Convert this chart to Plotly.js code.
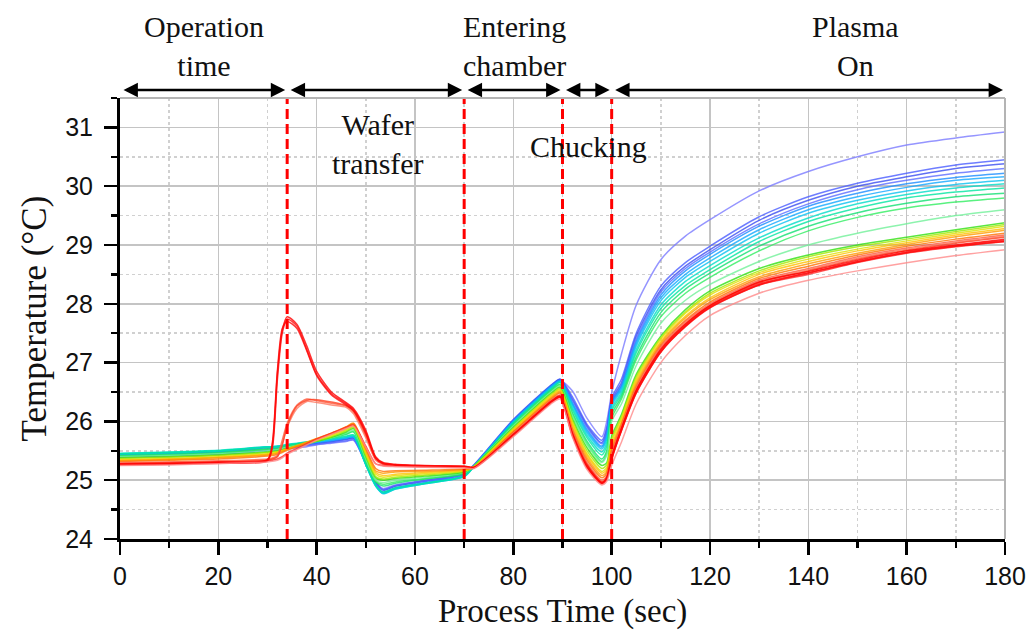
<!DOCTYPE html>
<html>
<head>
<meta charset="utf-8">
<script src="https://cdn.plot.ly/plotly-3.0.1.min.js"></script>
<style>
  html, body { margin: 0; padding: 0; background: #ffffff; }
  #chart { width: 1035px; height: 631px; }
</style>
</head>
<body>
<div id="chart"></div>
<script>
// Process time (sec)
const timeSec = [0, 10, 20, 30, 31, 32, 33, 34, 36, 38, 40, 43, 46, 47.5, 50, 52, 53.5, 56, 62, 70,
                 72, 80, 88, 89.5, 92, 95, 98, 99, 100, 102, 105, 110, 115, 120, 130, 140, 150, 160, 170, 180];

// Temperature traces (°C), one per wafer
const tViolet = [25.38,25.40,25.43,25.50, 25.50,25.51,25.52,25.53, 25.55,25.57,25.60,25.63,25.66,25.68, 25.30,24.98,24.86,24.92,25.00,25.12, 25.26,26.00,26.62,26.70, 26.52,26.05,25.74,26.00,26.48, 27.15,27.98,28.75,29.15,29.43,29.92,30.25,30.50,30.70,30.82,30.92];
const tBlue1 = [25.40,25.42,25.46,25.52, 25.52,25.53,25.54,25.56, 25.58,25.60,25.62,25.65,25.69,25.71, 25.28,24.95,24.83,24.90,24.98,25.10, 25.25,26.02,26.63,26.72, 26.42,25.95,25.68,25.90,26.40, 26.72,27.50,28.30,28.70,28.98,29.48,29.82,30.05,30.22,30.36,30.45];
const tBlue2 = [25.42,25.43,25.47,25.53, 25.53,25.54,25.55,25.56, 25.59,25.61,25.63,25.66,25.70,25.72, 25.30,24.96,24.84,24.90,24.99,25.11, 25.26,26.03,26.64,26.71, 26.38,25.92,25.64,25.85,26.36, 26.66,27.45,28.24,28.64,28.92,29.42,29.76,30.00,30.16,30.30,30.38];
const tBlue3 = [25.39,25.41,25.44,25.51, 25.51,25.52,25.53,25.55, 25.57,25.59,25.61,25.64,25.67,25.69, 25.27,24.94,24.84,24.91,24.99,25.10, 25.25,26.01,26.61,26.69, 26.36,25.90,25.62,25.82,26.34, 26.62,27.40,28.20,28.60,28.88,29.36,29.70,29.94,30.10,30.22,30.30];
const tSky1 = [25.43,25.45,25.48,25.55, 25.55,25.56,25.57,25.58, 25.60,25.62,25.64,25.67,25.71,25.73, 25.28,24.92,24.80,24.87,24.96,25.08, 25.24,26.01,26.62,26.70, 26.32,25.86,25.58,25.78,26.32, 26.60,27.36,28.15,28.56,28.84,29.32,29.66,29.88,30.04,30.15,30.22];
const tSky2 = [25.44,25.46,25.49,25.56, 25.56,25.57,25.58,25.59, 25.61,25.63,25.65,25.68,25.72,25.74, 25.27,24.91,24.78,24.86,24.95,25.07, 25.24,26.00,26.61,26.69, 26.30,25.83,25.56,25.74,26.30, 26.57,27.32,28.10,28.50,28.78,29.26,29.60,29.82,29.98,30.10,30.16];
const tSky3 = [25.45,25.47,25.50,25.57, 25.57,25.58,25.59,25.60, 25.62,25.64,25.66,25.69,25.72,25.74, 25.26,24.90,24.77,24.85,24.94,25.06, 25.23,25.99,26.60,26.68, 26.28,25.80,25.53,25.70,26.27, 26.54,27.28,28.05,28.45,28.72,29.20,29.54,29.76,29.92,30.03,30.10];
const tCyan1 = [25.46,25.48,25.51,25.57, 25.57,25.58,25.59,25.61, 25.63,25.65,25.67,25.70,25.74,25.76, 25.26,24.90,24.78,24.85,24.94,25.06, 25.23,25.98,26.58,26.67, 26.24,25.76,25.48,25.64,26.22, 26.50,27.22,27.98,28.38,28.65,29.12,29.46,29.70,29.86,29.97,30.04];
const tCyan2 = [25.45,25.47,25.50,25.56, 25.56,25.57,25.58,25.60, 25.62,25.65,25.67,25.71,25.75,25.77, 25.28,24.92,24.80,24.87,24.95,25.07, 25.23,25.97,26.57,26.66, 26.20,25.72,25.43,25.58,26.18, 26.46,27.17,27.92,28.31,28.58,29.06,29.40,29.63,29.80,29.90,29.97];
const tGreen1 = [25.42,25.44,25.47,25.53, 25.53,25.54,25.56,25.58, 25.61,25.64,25.67,25.72,25.78,25.82, 25.32,24.97,24.90,24.95,25.02,25.11, 25.24,25.95,26.55,26.63, 26.15,25.66,25.36,25.50,26.12, 26.42,27.10,27.85,28.25,28.52,28.98,29.32,29.55,29.71,29.82,29.88];
const tGreen2 = [25.41,25.43,25.46,25.52, 25.52,25.53,25.55,25.57, 25.60,25.63,25.66,25.72,25.79,25.83, 25.33,24.98,24.93,24.97,25.03,25.12, 25.24,25.94,26.54,26.62, 26.12,25.62,25.32,25.46,26.06, 26.38,27.05,27.78,28.18,28.45,28.90,29.24,29.47,29.63,29.73,29.80];
const tLightGreen = [25.40,25.42,25.45,25.50, 25.51,25.52,25.54,25.56, 25.59,25.62,25.66,25.72,25.80,25.85, 25.36,25.00,24.96,25.00,25.05,25.13, 25.24,25.92,26.52,26.60, 26.10,25.60,25.30,25.42,26.00, 26.30,26.95,27.67,28.06,28.33,28.72,29.00,29.20,29.36,29.50,29.60];
const tLime1 = [25.38,25.40,25.43,25.48, 25.49,25.50,25.52,25.54, 25.58,25.62,25.66,25.73,25.82,25.88, 25.40,25.04,25.00,25.03,25.07,25.14, 25.24,25.90,26.50,26.58, 26.05,25.55,25.25,25.30,25.75, 26.12,26.80,27.45,27.90,28.22,28.60,28.83,29.00,29.13,29.26,29.38];
const tLime2 = [25.37,25.39,25.42,25.47, 25.48,25.49,25.51,25.54, 25.58,25.62,25.67,25.74,25.84,25.90, 25.42,25.06,25.02,25.05,25.09,25.15, 25.23,25.88,26.48,26.56, 26.02,25.50,25.20,25.26,25.70, 26.08,26.76,27.42,27.86,28.18,28.56,28.80,28.97,29.10,29.23,29.35];
const tYellow1 = [25.35,25.37,25.40,25.45, 25.46,25.48,25.50,25.53, 25.58,25.63,25.68,25.76,25.86,25.92, 25.45,25.10,25.05,25.08,25.11,25.16, 25.23,25.87,26.46,26.54, 25.98,25.45,25.15,25.22,25.65, 26.05,26.72,27.40,27.84,28.15,28.53,28.76,28.93,29.07,29.20,29.32];
const tYellow2 = [25.34,25.36,25.39,25.44, 25.45,25.47,25.50,25.53, 25.58,25.64,25.70,25.78,25.88,25.94, 25.48,25.13,25.08,25.10,25.13,25.17, 25.22,25.85,26.44,26.52, 25.95,25.42,25.12,25.18,25.60, 26.00,26.68,27.36,27.79,28.10,28.50,28.72,28.90,29.04,29.17,29.28];
const tOrange1 = [25.33,25.35,25.38,25.43, 25.44,25.46,25.49,25.53, 25.59,25.65,25.71,25.80,25.91,25.97, 25.52,25.16,25.12,25.14,25.15,25.18, 25.22,25.83,26.42,26.50, 25.90,25.38,25.08,25.15,25.55, 25.97,26.64,27.33,27.76,28.07,28.46,28.68,28.86,29.01,29.14,29.25];
const tOrange2 = [25.32,25.34,25.36,25.41, 25.42,25.44,25.47,25.51, 25.57,25.63,25.70,25.79,25.90,25.96, 25.54,25.20,25.15,25.16,25.17,25.19, 25.22,25.82,26.40,26.48, 25.86,25.34,25.04,25.12,25.50, 25.94,26.60,27.30,27.72,28.03,28.43,28.64,28.83,28.98,29.10,29.20];
const tHump1 = [25.30,25.31,25.33,25.36, 25.38,25.42,25.68,25.97, 26.28,26.38,26.35,26.31,26.26,26.16, 25.75,25.36,25.28,25.26,25.24,25.23, 25.22,25.80,26.38,26.45, 25.84,25.30,25.00,25.08,25.45, 25.92,26.57,27.27,27.70,28.00,28.40,28.60,28.80,28.95,29.07,29.17];
const tHump2 = [25.29,25.30,25.32,25.35, 25.37,25.40,25.62,25.90, 26.22,26.34,26.32,26.28,26.24,26.13, 25.72,25.34,25.27,25.25,25.23,25.22, 25.22,25.79,26.37,26.44, 25.82,25.28,24.98,25.06,25.42, 25.90,26.55,27.25,27.68,27.98,28.38,28.58,28.78,28.93,29.05,29.15];
const tHump3 = [25.28,25.30,25.31,25.34, 25.36,25.40,25.60,25.92, 26.26,26.36,26.37,26.33,26.27,26.18, 25.78,25.38,25.29,25.26,25.24,25.23, 25.22,25.78,26.36,26.43, 25.81,25.27,24.97,25.04,25.40, 25.89,26.53,27.23,27.66,27.97,28.36,28.56,28.76,28.91,29.03,29.13];
const tRed1 = [25.27,25.28,25.30,25.33, 25.34,25.36,25.40,25.46, 25.54,25.62,25.70,25.80,25.90,25.94, 25.58,25.28,25.25,25.24,25.23,25.22, 25.21,25.76,26.34,26.41, 25.76,25.21,24.95,25.02,25.35, 25.84,26.48,27.18,27.62,27.94,28.32,28.50,28.70,28.86,28.97,29.06];
const tSpike1 = [25.27,25.28,25.30,25.34, 25.60,26.80,27.55,27.78, 27.65,27.28,26.85,26.50,26.32,26.22, 25.85,25.40,25.30,25.27,25.25,25.24, 25.22,25.78,26.36,26.43, 25.80,25.25,24.96,25.05,25.40, 25.88,26.53,27.22,27.65,27.97,28.37,28.55,28.74,28.90,29.00,29.10];
const tSpike2 = [25.26,25.27,25.29,25.33, 25.55,26.70,27.50,27.74, 27.62,27.22,26.80,26.47,26.30,26.20, 25.82,25.38,25.29,25.26,25.24,25.23, 25.21,25.77,26.35,26.42, 25.78,25.23,24.94,25.02,25.36, 25.86,26.50,27.20,27.63,27.95,28.34,28.53,28.72,28.88,28.99,29.08];
const tSpike3 = [25.28,25.29,25.31,25.35, 25.65,26.85,27.58,27.70, 27.58,27.20,26.78,26.45,26.28,26.18, 25.80,25.37,25.28,25.26,25.24,25.23, 25.21,25.76,26.34,26.41, 25.77,25.22,24.95,25.03,25.38, 25.85,26.49,27.18,27.61,27.93,28.32,28.52,28.71,28.87,28.98,29.06];
const tLightRed = [25.25,25.26,25.28,25.31, 25.32,25.34,25.38,25.44, 25.52,25.60,25.68,25.78,25.88,25.92, 25.56,25.28,25.24,25.23,25.22,25.21, 25.20,25.74,26.32,26.38, 25.74,25.18,24.92,24.98,25.25, 25.65,26.30,27.00,27.46,27.80,28.18,28.40,28.56,28.70,28.82,28.92];

const seriesValues = [tViolet, tBlue1, tBlue2, tBlue3, tSky1, tSky2, tSky3, tCyan1, tCyan2,
  tGreen1, tGreen2, tLightGreen, tLime1, tLime2, tYellow1, tYellow2, tOrange1, tOrange2,
  tHump1, tHump2, tHump3, tRed1, tSpike1, tSpike2, tSpike3, tLightRed];
const seriesColors = ['#7a7aff', '#4a5cff', '#3a4cf0', '#5a6cff', '#1a8cff', '#12a8ff', '#0ac0f0', '#00dcc8', '#00e6a0',
  '#10e070', '#30ee60', '#70f098', '#30e010', '#a0e800', '#e0e000', '#ffc000', '#ff9a00', '#ff7000',
  '#ff5a3c', '#ff7860', '#ff4020', '#ff2a2a', '#ff0000', '#ff1010', '#ff0808', '#ff8a8a'];

// Process phases
const phaseBounds = [0, 34, 70, 90, 100, 180];
const dividerTimes = [34, 70, 90, 100];

const traces = seriesValues.map((vals, i) => ({
  type: 'scatter', mode: 'lines', x: timeSec, y: vals,
  line: { color: seriesColors[i], width: 1.5, shape: 'spline', smoothing: 0.7 }, opacity: 0.8,
  hoverinfo: 'skip', showlegend: false
}));

const serif = 'Liberation Serif, Times New Roman, serif';
const sans = 'Liberation Sans, Arial, sans-serif';

const shapes = dividerTimes.map(t => ({
  type: 'line', xref: 'x', yref: 'paper', x0: t, x1: t, y0: 0, y1: 1,
  line: { color: '#ff0000', width: 3, dash: '10px,5px' }, layer: 'above'
}));
// gray frame at top and right
shapes.push({ type: 'line', xref: 'paper', yref: 'paper', x0: 0, x1: 1, y0: 1, y1: 1, line: { color: '#b4b4b4', width: 2 } });
shapes.push({ type: 'line', xref: 'paper', yref: 'paper', x0: 1, x1: 1, y0: 0, y1: 1, line: { color: '#b4b4b4', width: 2 } });

const annotations = [];
for (let i = 0; i < phaseBounds.length - 1; i++) {
  annotations.push({
    xref: 'x', yref: 'paper', x: phaseBounds[i + 1], y: 1.018,
    axref: 'x', ayref: 'pixel', ax: phaseBounds[i], ay: 0,
    text: '', showarrow: true, arrowside: 'start+end', arrowhead: 2, arrowsize: 1.15,
    arrowwidth: 2.5, arrowcolor: '#000000', standoff: 2, startstandoff: 2
  });
}
const topLabels = [
  { text: 'Operation<br>time', x: 17 },
  { text: 'Entering<br>chamber', x: 80.3 },
  { text: 'Plasma<br>On', x: 149.5 }
];
topLabels.forEach(l => annotations.push({
  xref: 'x', yref: 'paper', x: l.x, y: 1.118, yanchor: 'middle', xanchor: 'center',
  text: l.text, showarrow: false, font: { family: serif, size: 30, color: '#111' }
}));
annotations.push({ xref: 'x', yref: 'y', x: 52.5, y: 30.71, text: 'Wafer<br>transfer', showarrow: false,
  font: { family: serif, size: 30, color: '#111' }, xanchor: 'center', yanchor: 'middle' });
annotations.push({ xref: 'x', yref: 'y', x: 95.2, y: 30.68, text: 'Chucking', showarrow: false,
  font: { family: serif, size: 30, color: '#111' }, xanchor: 'center', yanchor: 'middle' });
// x-axis title, placed just below the tick labels
annotations.push({ xref: 'paper', yref: 'paper', x: 0.5, y: -0.164, text: 'Process Time (sec)', showarrow: false,
  font: { family: serif, size: 33, color: '#111' }, xanchor: 'center', yanchor: 'middle' });

const axisCommon = {
  showline: true, linecolor: '#000000', linewidth: 3,
  ticks: 'outside', ticklen: 13, tickwidth: 2.5, tickcolor: '#000000',
  showgrid: true, gridcolor: '#c4c4c4', gridwidth: 1.5,
  zeroline: false,
  tickfont: { family: sans, size: 25, color: '#111' }
};

const layout = {
  width: 1035, height: 631,
  margin: { l: 120, r: 30, t: 98, b: 92 },
  paper_bgcolor: '#ffffff', plot_bgcolor: '#ffffff',
  showlegend: false,
  xaxis: Object.assign({}, axisCommon, {
    range: [0, 180], tick0: 0, dtick: 20, ticklabelstandoff: 0,
    minor: { dtick: 10, ticks: 'outside', ticklen: 6, tickwidth: 2.5, tickcolor: '#000', showgrid: true, gridcolor: '#d0d0d0', griddash: 'dot', gridwidth: 1.5 }
  }),
  yaxis: Object.assign({}, axisCommon, {
    range: [24, 31.5], tick0: 24, dtick: 1, ticklabelstandoff: 6,
    minor: { dtick: 0.5, ticks: 'outside', ticklen: 6, tickwidth: 2.5, tickcolor: '#000', showgrid: true, gridcolor: '#d0d0d0', griddash: 'dot', gridwidth: 1.5 },
    title: { text: 'Temperature (°C)', font: { family: serif, size: 35, color: '#111' }, standoff: 8 }
  }),
  shapes: shapes,
  annotations: annotations
};

Plotly.newPlot('chart', traces, layout, { staticPlot: true, displayModeBar: false });
</script>
</body>
</html>
